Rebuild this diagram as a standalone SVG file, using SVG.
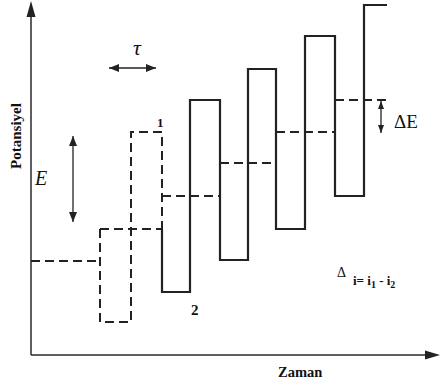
<svg xmlns="http://www.w3.org/2000/svg" width="440" height="390" viewBox="0 0 440 390">
<defs>
<style>
.ax{stroke:#2a2a2a;stroke-width:1.5;fill:none}
.sol{stroke:#222;stroke-width:2.2;fill:none;stroke-linejoin:miter}
.dash{stroke:#222;stroke-width:2;fill:none;stroke-dasharray:9 5}
.thin{stroke:#222;stroke-width:1.3;fill:none}
.lbl{fill:#111}
.b{font-weight:bold}
.it{font-style:italic}
</style>
<marker id="ah" viewBox="0 0 10 8" refX="10" refY="4" markerWidth="10" markerHeight="8" markerUnits="userSpaceOnUse" orient="auto-start-reverse">
<path d="M0,0 L10,4 L0,8 Z" fill="#222"/>
</marker>
<marker id="ahs" viewBox="0 0 8 6" refX="8" refY="3" markerWidth="8" markerHeight="6" markerUnits="userSpaceOnUse" orient="auto-start-reverse">
<path d="M0,0 L8,3 L0,6 Z" fill="#222"/>
</marker>
</defs>
<rect width="440" height="390" fill="#fff"/>
<g id="axes">
<path class="ax" d="M31,355 V16"/>
<path d="M31,1 L26.5,17 L35.5,17 Z" fill="#222"/>
<path class="ax" d="M31,355 H426"/>
<path d="M440,355 L425,350.5 L425,359.5 Z" fill="#222"/>
</g>
<g id="connectors">
<path class="dash" d="M31,261 H100"/>
<path class="dash" d="M100,229 V322 H131 V132 H162 V229"/>
<path class="dash" d="M100,229 H162"/>
<path class="dash" d="M162,196 H220"/>
<path class="dash" d="M220,163 H276"/>
<path class="dash" d="M276,132 H335"/>
<path class="dash" d="M335,100 H388"/>
<path class="sol" d="M162,229 V292 H190 V100 H220 V260 H248 V69 H276 V229 H305 V36 H335 V196 H364 V5 H387"/>
<path class="thin" d="M109,68 H156" marker-start="url(#ah)" marker-end="url(#ah)"/>
<path class="thin" d="M73,136 V222" marker-start="url(#ah)" marker-end="url(#ah)"/>
<path class="thin" d="M381,101 V133" marker-start="url(#ahs)" marker-end="url(#ahs)"/>
</g>
<g id="labels" font-family="'Liberation Serif', 'DejaVu Serif', serif">
<text class="lbl it" x="133" y="55" font-size="22">τ</text>
<text class="lbl b" x="157" y="127" font-size="13">1</text>
<text class="lbl b" x="191" y="315" font-size="15">2</text>
<text class="lbl it" x="35" y="185" font-size="20">E</text>
<text class="lbl" x="394" y="128" font-size="19">ΔE</text>
<text class="lbl b" font-size="15" transform="translate(21,136) rotate(-90)" text-anchor="middle">Potansiyel</text>
<text class="lbl b" x="278" y="377" font-size="14.5">Zaman</text>
<text class="lbl" x="337" y="277" font-size="14">Δ</text>
<text class="lbl b" x="353" y="285" font-size="13">i= i<tspan font-size="10" dy="3">1</tspan><tspan dy="-3"> - i</tspan><tspan font-size="10" dy="3">2</tspan></text>
</g>
</svg>
